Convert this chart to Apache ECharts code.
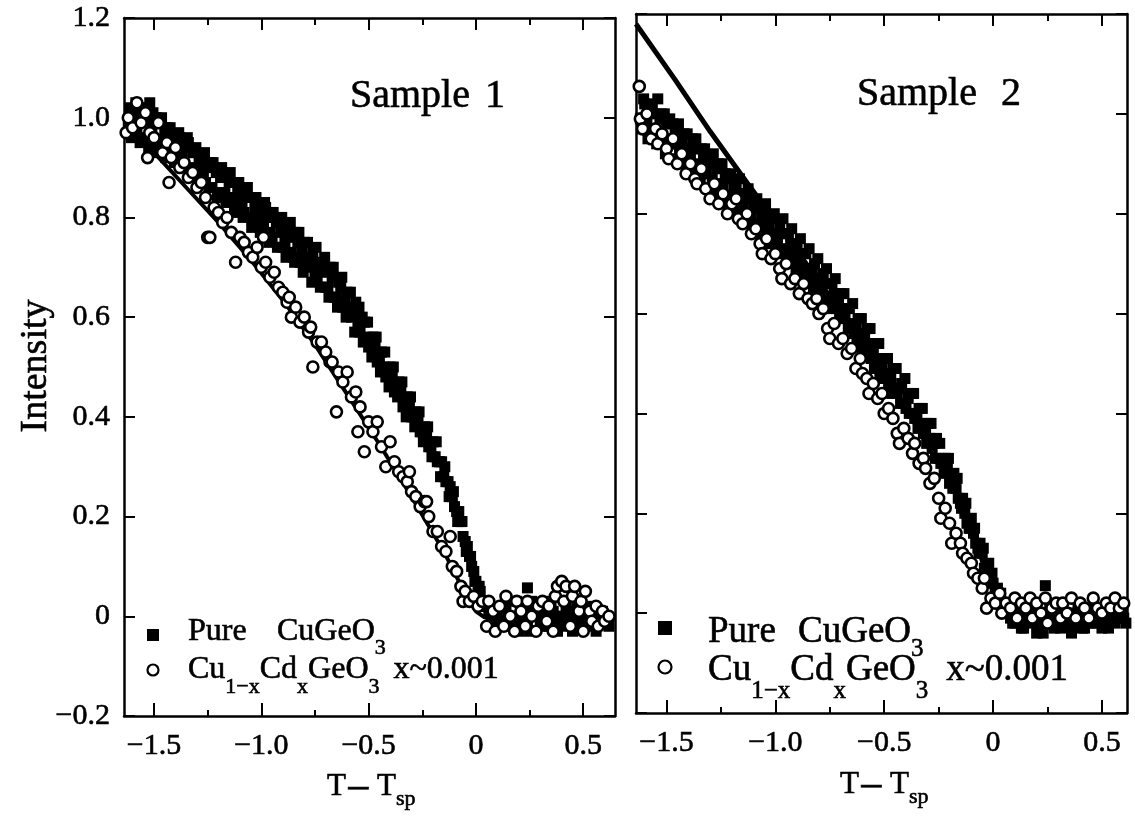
<!DOCTYPE html>
<html><head><meta charset="utf-8">
<script src="https://cdn.jsdelivr.net/npm/echarts@6/dist/echarts.min.js"></script>
<style>html,body{margin:0;padding:0;background:#fff;}#c{width:1135px;height:821px;}</style>
</head><body><div id="c"></div>
<script>
// ---- tick values ----
const xMajorTicks = [-1.5, -1.0, -0.5, 0, 0.5];
const xMinorTicks = [-1.25, -0.75, -0.25, 0.25];
const yTicks = [-0.2, 0, 0.2, 0.4, 0.6, 0.8, 1.0, 1.2];

// ---- Sample 1 : pure CuGeO3 (filled squares) ----
const s1Pure = [
[-1.62,0.99],[-1.60,1.01],[-1.58,0.97],[-1.56,1.02],[-1.54,0.99],[-1.52,1.03],[-1.50,0.95],[-1.48,0.99],[-1.46,0.94],[-1.44,0.98],
[-1.42,0.96],[-1.40,0.92],[-1.38,0.96],[-1.36,0.91],[-1.34,0.95],[-1.32,0.93],[-1.30,0.88],[-1.28,0.92],[-1.26,0.87],[-1.24,0.91],
[-1.22,0.90],[-1.20,0.85],[-1.18,0.89],[-1.16,0.84],[-1.14,0.87],[-1.12,0.82],[-1.10,0.86],[-1.08,0.81],[-1.06,0.84],[-1.04,0.79],
[-1.02,0.83],[-1.00,0.78],[-0.98,0.82],[-0.96,0.77],[-0.94,0.80],[-0.92,0.79],[-0.90,0.74],[-0.88,0.78],[-0.86,0.73],[-0.84,0.77],
[-0.82,0.71],[-0.80,0.75],[-0.78,0.70],[-0.76,0.73],[-0.74,0.68],[-0.72,0.71],[-0.70,0.66],[-0.68,0.70],[-0.66,0.64],[-0.64,0.67],
[-0.62,0.62],[-0.60,0.65],[-0.58,0.60],[-0.56,0.63],[-0.54,0.57],[-0.52,0.59],[-0.50,0.54],[-0.48,0.56],[-0.46,0.51],[-0.44,0.53],
[-0.42,0.48],[-0.40,0.50],[-0.38,0.45],[-0.36,0.47],[-0.34,0.42],[-0.32,0.44],[-0.30,0.40],[-0.28,0.41],[-0.26,0.37],[-0.24,0.38],
[-0.22,0.34],[-0.20,0.35],[-0.18,0.31],[-0.16,0.31],[-0.14,0.27],[-0.12,0.26],[-0.10,0.22],[-0.08,0.21],[-0.06,0.16],[-0.04,0.14],
[-0.02,0.10],[0.00,0.07],[0.02,0.05],[0.04,0.02],[0.06,0.01],[0.08,-0.01],
[0.10,0.01],[0.12,-0.02],[0.14,0.02],[0.16,-0.01],[0.18,0.00],[0.20,-0.03],[0.22,0.01],[0.24,-0.02],[0.26,0.03],[0.28,0.00],
[0.30,-0.01],[0.32,0.02],[0.34,-0.02],[0.36,0.01],[0.38,-0.03],[0.40,0.00],[0.42,0.02],[0.44,-0.01],[0.46,0.01],[0.48,-0.02],
[0.50,0.00],[0.52,0.02],[0.54,-0.01],[0.56,-0.03],[0.58,0.01],[0.60,0.00],[0.62,-0.02],
[-1.61,1.02],[-1.59,0.98],[-1.57,1.00],[-1.55,0.96],[-1.53,1.00],[-1.51,0.98],[-1.49,1.00],[-1.47,0.95],[-1.45,0.97],[-1.43,0.93],
[-1.41,0.96],[-1.39,0.95],[-1.37,0.92],[-1.35,0.94],[-1.33,0.90],[-1.31,0.93],[-1.29,0.91],[-1.27,0.89],[-1.25,0.90],[-1.23,0.86],
[-1.21,0.89],[-1.19,0.88],[-1.17,0.85],[-1.15,0.87],[-1.13,0.84],[-1.11,0.85],[-1.09,0.83],[-1.07,0.85],[-1.05,0.80],[-1.03,0.82],
[-1.01,0.81],[-0.99,0.79],[-0.97,0.80],[-0.95,0.76],[-0.93,0.79],[-0.91,0.77],[-0.89,0.75],[-0.87,0.76],[-0.85,0.72],[-0.83,0.75],
[-0.81,0.73],[-0.79,0.71],[-0.77,0.72],[-0.75,0.69],[-0.73,0.70],[-0.71,0.69],[-0.69,0.66],[-0.67,0.68],[-0.65,0.64],[-0.63,0.66],
[-0.61,0.63],[-0.59,0.61],[-0.57,0.62],[-0.55,0.58],[-0.53,0.60],[-0.51,0.56],[-0.49,0.55],[-0.47,0.54],[-0.45,0.52],[-0.43,0.50],
[-0.41,0.49],[-0.39,0.48],[-0.37,0.46],[-0.35,0.45],[-0.33,0.43],[-0.31,0.42],[-0.29,0.40],[-0.27,0.39],[-0.25,0.37],[-0.23,0.36],
[-0.21,0.34],[-0.19,0.32],[-0.17,0.31],[-0.15,0.28],[-0.13,0.27],[-0.11,0.24],[-0.09,0.21],[-0.07,0.19],[-0.05,0.15],[-0.03,0.12],
[-0.01,0.09],[0.01,0.06],[0.03,0.03],[0.05,0.02],[0.07,0.00],[0.09,0.01],
[0.11,-0.01],[0.13,0.02],[0.15,0.00],[0.17,-0.02],[0.19,0.03],[0.21,-0.01],[0.23,0.01],[0.25,-0.03],[0.27,0.02],[0.29,0.00],
[0.31,-0.02],[0.33,0.01],[0.35,0.03],[0.37,-0.01],[0.39,0.00],[0.41,-0.02],[0.43,0.01],[0.45,-0.03],[0.47,0.02],[0.49,0.00],
[0.51,-0.01],[0.53,0.01],[0.55,-0.02],[0.57,0.00],[0.59,0.01],[0.61,-0.01],
[0.24,0.057],
[-1.605,0.96],[-1.585,1.03],[-1.565,0.95],[-1.545,1.02],[-1.525,0.94],[-1.505,1.01],[-1.485,0.93],[-1.465,1.00],[-1.445,0.92],[-1.425,0.98],
[-1.405,0.91],[-1.385,0.97],[-1.365,0.90],[-1.345,0.96],[-1.325,0.88],[-1.305,0.94],[-1.285,0.87],[-1.265,0.93],[-1.245,0.86],[-1.225,0.91],
[-1.205,0.84],[-1.185,0.90],[-1.165,0.83],[-1.145,0.89],[-1.125,0.81],[-1.105,0.87],[-1.085,0.80],[-1.065,0.86],[-1.045,0.78],[-1.025,0.84],
[-1.005,0.77],[-0.985,0.83],[-0.965,0.75],[-0.945,0.81],[-0.925,0.74],[-0.905,0.80],[-0.885,0.72],[-0.865,0.79],[-0.845,0.71],[-0.825,0.77],
[-0.805,0.69],[-0.785,0.75],[-0.765,0.67],[-0.745,0.74],[-0.725,0.66],[-0.705,0.72],[-0.685,0.64],[-0.665,0.70],[-0.645,0.62],[-0.625,0.68],
[-0.605,0.60],[-0.585,0.65],[-0.565,0.57],[-0.545,0.62],[-0.525,0.55],[-0.505,0.59],[-0.485,0.52],[-0.465,0.56],[-0.445,0.49],[-0.425,0.53],
[-0.405,0.46],[-0.385,0.50],[-0.365,0.44],[-0.345,0.47],[-0.325,0.40],[-0.305,0.44],[-0.285,0.38],[-0.265,0.41],[-0.245,0.35],[-0.225,0.38],
[-0.205,0.32],[-0.185,0.35],[-0.165,0.28],[-0.145,0.30],[-0.125,0.24],[-0.105,0.25],[-0.085,0.19],[-0.065,0.19],[-0.045,0.13],[-0.025,0.12],
[-0.005,0.07],[0.015,0.06],[0.035,0.02]
];

// ---- Sample 1 : Cu1-xCdxGeO3 (open circles) ----
const s1Cd = [
[-1.63,0.97],[-1.62,1.00],[-1.60,0.98],[-1.58,1.03],[-1.56,0.99],[-1.54,1.01],[-1.53,0.92],[-1.52,0.97],[-1.50,0.96],[-1.48,0.99],
[-1.46,0.93],[-1.44,0.95],[-1.43,0.87],[-1.42,0.92],[-1.40,0.94],[-1.38,0.90],[-1.36,0.91],[-1.34,0.88],[-1.32,0.89],[-1.30,0.86],
[-1.28,0.87],[-1.26,0.84],[-1.25,0.76],[-1.24,0.76],[-1.22,0.82],[-1.20,0.81],[-1.18,0.79],[-1.16,0.80],[-1.14,0.77],[-1.12,0.71],
[-1.10,0.76],[-1.08,0.75],[-1.06,0.73],[-1.04,0.72],[-1.02,0.74],[-1.00,0.70],[-0.99,0.76],[-0.98,0.71],[-0.96,0.68],[-0.94,0.69],
[-0.92,0.66],[-0.90,0.65],[-0.88,0.63],[-0.87,0.64],[-0.86,0.60],[-0.84,0.62],[-0.82,0.59],[-0.80,0.60],[-0.78,0.57],[-0.77,0.58],
[-0.76,0.50],[-0.74,0.55],[-0.72,0.55],[-0.70,0.53],[-0.68,0.51],[-0.67,0.51],[-0.65,0.41],[-0.64,0.49],[-0.62,0.47],[-0.60,0.49],
[-0.58,0.44],[-0.56,0.45],[-0.55,0.37],[-0.54,0.42],[-0.52,0.33],[-0.50,0.39],[-0.48,0.37],[-0.46,0.39],[-0.44,0.34],[-0.42,0.30],
[-0.40,0.35],[-0.38,0.31],[-0.36,0.29],[-0.34,0.28],[-0.32,0.27],[-0.31,0.29],[-0.30,0.25],[-0.28,0.24],[-0.26,0.22],[-0.24,0.23],
[-0.23,0.23],[-0.22,0.20],[-0.20,0.17],[-0.18,0.17],[-0.16,0.14],[-0.14,0.13],[-0.12,0.16],[-0.11,0.10],[-0.09,0.09],[-0.07,0.06],
[-0.06,0.03],[-0.05,0.05],[-0.03,0.03],[-0.01,0.04],[0.01,0.02],[0.03,0.03],[0.05,-0.02],[0.06,0.03],[0.08,0.01],[0.09,-0.03],
[0.11,0.02],[0.13,-0.02],[0.14,0.04],[0.16,0.00],[0.18,-0.03],[0.19,0.03],[0.21,0.01],[0.23,-0.02],[0.24,0.03],[0.26,0.00],
[0.28,-0.03],[0.29,0.02],[0.31,0.03],[0.33,-0.01],[0.34,0.02],[0.36,-0.03],[0.37,0.04],[0.38,0.06],[0.40,0.07],[0.41,0.03],
[0.42,0.06],[0.44,-0.02],[0.45,0.04],[0.46,0.06],[0.48,0.01],[0.49,0.03],[0.50,-0.03],[0.51,0.05],[0.53,0.01],[0.54,-0.01],
[0.56,0.02],[0.57,-0.02],[0.59,0.01],[0.60,-0.01],[0.62,0.00]
];

// ---- Sample 1 : fit line ----
const s1Fit = [
[-1.64,1.0],[-1.5,0.93],[-1.35,0.86],[-1.2,0.79],[-1.05,0.715],[-0.9,0.634],[-0.75,0.545],[-0.6,0.445],[-0.45,0.345],
[-0.3,0.24],[-0.15,0.13],[-0.05,0.045],[0.0,0.01],[0.04,-0.002],[0.2,-0.005],[0.4,-0.005],[0.65,-0.005]
];

// ---- Sample 2 : pure CuGeO3 (filled squares) ----
const s2Pure = [
[-1.62,0.99],[-1.60,1.02],[-1.58,0.97],[-1.56,1.00],[-1.54,1.03],[-1.52,0.95],[-1.50,0.98],[-1.48,0.94],[-1.46,0.97],[-1.44,0.93],
[-1.42,0.96],[-1.40,0.91],[-1.38,0.95],[-1.36,0.90],[-1.34,0.93],[-1.32,0.88],[-1.30,0.91],[-1.28,0.86],[-1.26,0.90],[-1.24,0.85],
[-1.22,0.87],[-1.20,0.82],[-1.18,0.86],[-1.16,0.81],[-1.14,0.84],[-1.12,0.79],[-1.10,0.82],[-1.08,0.78],[-1.06,0.80],[-1.04,0.75],
[-1.02,0.79],[-1.00,0.74],[-0.98,0.78],[-0.96,0.73],[-0.94,0.76],[-0.92,0.71],[-0.90,0.74],[-0.88,0.69],[-0.86,0.72],[-0.84,0.67],
[-0.82,0.70],[-0.80,0.65],[-0.78,0.68],[-0.76,0.63],[-0.74,0.66],[-0.72,0.61],[-0.70,0.64],[-0.68,0.59],[-0.66,0.61],[-0.64,0.56],
[-0.62,0.59],[-0.60,0.53],[-0.58,0.57],[-0.56,0.51],[-0.54,0.54],[-0.52,0.48],[-0.50,0.51],[-0.48,0.46],[-0.46,0.49],[-0.44,0.44],
[-0.42,0.46],[-0.40,0.41],[-0.38,0.44],[-0.36,0.39],[-0.34,0.41],[-0.32,0.36],[-0.30,0.38],[-0.28,0.33],[-0.26,0.35],[-0.24,0.30],
[-0.22,0.31],[-0.20,0.26],[-0.18,0.28],[-0.16,0.23],[-0.14,0.23],[-0.12,0.18],[-0.10,0.19],[-0.08,0.14],[-0.06,0.14],[-0.04,0.09],
[-0.02,0.10],[0.00,0.06],[0.02,0.05],[0.04,0.02],[0.06,0.01],[0.08,-0.01],
[0.10,-0.02],[0.12,0.00],[0.14,-0.03],[0.16,0.01],[0.18,-0.01],[0.20,-0.04],[0.22,0.00],[0.24,-0.02],[0.26,0.01],[0.28,-0.03],
[0.30,-0.01],[0.32,0.02],[0.34,-0.02],[0.36,-0.04],[0.38,0.00],[0.40,-0.01],[0.42,-0.03],[0.44,0.01],[0.46,-0.02],[0.48,0.00],
[0.50,-0.03],[0.52,-0.01],[0.54,0.01],[0.56,-0.02],[0.58,0.00],[0.60,-0.01],
[-1.61,0.97],[-1.59,0.99],[-1.57,1.01],[-1.55,0.96],[-1.53,0.99],[-1.51,1.00],[-1.49,0.95],[-1.47,0.98],[-1.45,0.94],[-1.43,0.95],
[-1.41,0.93],[-1.39,0.92],[-1.37,0.93],[-1.35,0.89],[-1.33,0.91],[-1.31,0.90],[-1.29,0.87],[-1.27,0.89],[-1.25,0.86],[-1.23,0.88],
[-1.21,0.83],[-1.19,0.85],[-1.17,0.84],[-1.15,0.82],[-1.13,0.83],[-1.11,0.80],[-1.09,0.81],[-1.07,0.77],[-1.05,0.79],[-1.03,0.77],
[-1.01,0.76],[-0.99,0.75],[-0.97,0.76],[-0.95,0.72],[-0.93,0.74],[-0.91,0.72],[-0.89,0.70],[-0.87,0.72],[-0.85,0.68],[-0.83,0.69],
[-0.81,0.67],[-0.79,0.66],[-0.77,0.66],[-0.75,0.63],[-0.73,0.64],[-0.71,0.62],[-0.69,0.60],[-0.67,0.61],[-0.65,0.58],[-0.63,0.57],
[-0.61,0.56],[-0.59,0.55],[-0.57,0.53],[-0.55,0.52],[-0.53,0.51],[-0.51,0.49],[-0.49,0.48],[-0.47,0.47],[-0.45,0.45],[-0.43,0.45],
[-0.41,0.42],[-0.39,0.43],[-0.37,0.40],[-0.35,0.39],[-0.33,0.38],[-0.31,0.36],[-0.29,0.35],[-0.27,0.34],[-0.25,0.31],[-0.23,0.30],
[-0.21,0.29],[-0.19,0.27],[-0.17,0.25],[-0.15,0.22],[-0.13,0.20],[-0.11,0.17],[-0.09,0.16],[-0.07,0.13],[-0.05,0.12],[-0.03,0.08],
[-0.01,0.07],[0.01,0.04],[0.03,0.03],[0.05,0.01],[0.07,0.00],[0.09,-0.02],
[0.11,0.00],[0.13,-0.03],[0.15,-0.01],[0.17,0.01],[0.19,-0.02],[0.21,-0.01],[0.23,-0.04],[0.25,0.00],[0.27,-0.02],[0.29,0.01],
[0.31,-0.03],[0.33,-0.01],[0.35,0.00],[0.37,-0.02],[0.39,0.01],[0.41,-0.03],[0.43,-0.01],[0.45,0.00],[0.47,-0.02],[0.49,0.01],
[0.51,-0.01],[0.53,-0.03],[0.55,0.00],[0.57,-0.01],[0.59,0.01],[0.61,-0.02],
[0.24,0.055],
[-1.605,1.03],[-1.585,0.95],[-1.565,1.02],[-1.545,0.94],[-1.525,1.00],[-1.505,0.92],[-1.485,0.99],[-1.465,0.91],[-1.445,0.98],[-1.425,0.90],
[-1.405,0.96],[-1.385,0.88],[-1.365,0.95],[-1.345,0.87],[-1.325,0.93],[-1.305,0.85],[-1.285,0.92],[-1.265,0.84],[-1.245,0.90],[-1.225,0.82],
[-1.205,0.88],[-1.185,0.80],[-1.165,0.87],[-1.145,0.79],[-1.125,0.85],[-1.105,0.77],[-1.085,0.83],[-1.065,0.75],[-1.045,0.82],[-1.025,0.74],
[-1.005,0.80],[-0.985,0.72],[-0.965,0.79],[-0.945,0.70],[-0.925,0.77],[-0.905,0.69],[-0.885,0.75],[-0.865,0.67],[-0.845,0.73],[-0.825,0.65],
[-0.805,0.71],[-0.785,0.63],[-0.765,0.69],[-0.745,0.61],[-0.725,0.67],[-0.705,0.59],[-0.685,0.64],[-0.665,0.57],[-0.645,0.62],[-0.625,0.54],
[-0.605,0.59],[-0.585,0.52],[-0.565,0.57],[-0.545,0.49],[-0.525,0.54],[-0.505,0.47],[-0.485,0.51],[-0.465,0.44],[-0.445,0.49],[-0.425,0.42],
[-0.405,0.47],[-0.385,0.40],[-0.365,0.44],[-0.345,0.37],[-0.325,0.41],[-0.305,0.34],[-0.285,0.38],[-0.265,0.31],[-0.245,0.34],[-0.225,0.28],
[-0.205,0.31],[-0.185,0.25],[-0.165,0.27],[-0.145,0.21],[-0.125,0.22],[-0.105,0.17],[-0.085,0.17],[-0.065,0.12],[-0.045,0.13],[-0.025,0.08],
[-0.005,0.08],[0.015,0.04],[0.035,0.04]
];

// ---- Sample 2 : Cu1-xCdxGeO3 (open circles) ----
const s2Cd = [
[-1.625,1.055],[-1.62,0.99],[-1.61,0.97],[-1.59,1.00],[-1.57,0.95],[-1.55,0.97],[-1.54,0.94],[-1.52,0.96],[-1.50,0.93],[-1.49,0.91],
[-1.47,0.95],[-1.45,0.90],[-1.43,0.92],[-1.41,0.88],[-1.39,0.90],[-1.37,0.87],[-1.36,0.86],[-1.34,0.89],[-1.32,0.85],[-1.30,0.83],
[-1.28,0.86],[-1.26,0.82],[-1.24,0.84],[-1.22,0.80],[-1.20,0.82],[-1.18,0.83],[-1.17,0.79],[-1.15,0.78],[-1.13,0.80],[-1.11,0.76],
[-1.09,0.77],[-1.07,0.74],[-1.06,0.72],[-1.04,0.75],[-1.02,0.71],[-1.00,0.72],[-0.98,0.69],[-0.97,0.67],[-0.95,0.70],[-0.93,0.66],
[-0.91,0.67],[-0.89,0.64],[-0.87,0.66],[-0.85,0.63],[-0.83,0.62],[-0.81,0.63],[-0.80,0.60],[-0.78,0.61],[-0.76,0.57],[-0.75,0.55],
[-0.73,0.58],[-0.71,0.54],[-0.69,0.55],[-0.67,0.52],[-0.65,0.53],[-0.63,0.49],[-0.61,0.51],[-0.60,0.48],[-0.58,0.47],[-0.57,0.44],
[-0.55,0.46],[-0.53,0.43],[-0.51,0.44],[-0.50,0.40],[-0.48,0.41],[-0.46,0.39],[-0.44,0.36],[-0.43,0.34],[-0.41,0.37],[-0.39,0.35],
[-0.37,0.32],[-0.36,0.34],[-0.34,0.30],[-0.32,0.31],[-0.31,0.29],[-0.29,0.26],[-0.27,0.27],[-0.25,0.23],[-0.24,0.19],[-0.22,0.21],
[-0.20,0.18],[-0.19,0.14],[-0.17,0.16],[-0.15,0.14],[-0.14,0.12],[-0.12,0.11],[-0.10,0.10],[-0.09,0.08],[-0.07,0.07],[-0.05,0.05],
[-0.04,0.07],[-0.03,0.01],[-0.01,0.03],[0.01,0.02],[0.03,0.04],[0.04,0.00],[0.06,0.02],[0.08,0.01],[0.10,0.03],[0.11,-0.01],
[0.13,0.02],[0.15,0.01],[0.17,0.03],[0.18,-0.01],[0.20,0.02],[0.22,0.00],[0.24,0.03],[0.25,-0.02],[0.27,0.01],[0.29,0.02],
[0.31,-0.01],[0.32,0.02],[0.34,0.00],[0.36,0.03],[0.38,-0.01],[0.40,0.02],[0.42,0.01],[0.44,-0.01],[0.46,0.03],[0.48,0.01],
[0.50,0.00],[0.52,0.02],[0.54,0.01],[0.56,0.03],[0.58,0.01],[0.60,0.02]
];

// ---- Sample 2 : fit line ----
const s2Fit = [
[-1.64,1.18],[-1.46,1.068],[-1.3,0.965],[-1.13,0.862],[-1.0,0.785],[-0.8,0.665],[-0.6,0.54],[-0.4,0.41],
[-0.2,0.265],[-0.1,0.17],[-0.03,0.08],[0.02,0.02],[0.06,0.0],[0.61,-0.005]
];

const FONT = 'Liberation Serif';
const cv = document.createElement('canvas').getContext('2d');
function tw(t, size) { cv.font = size + 'px "' + FONT + '"'; return cv.measureText(t).width; }
const K = 0.34;
function runs(items) {
  const els = []; let cx = 0;
  for (const it of items) {
    if (it.x !== undefined) cx = it.x;
    els.push({type:'text', silent:true, z:100, x:cx, y:it.base - K*it.size,
      style:{text:it.t, font:it.size + 'px "' + FONT + '"', fill:'#000', stroke:'#000', lineWidth:0.6,
        align:'left', verticalAlign:'middle', textAlign:'left', textVerticalAlign:'middle'}});
    cx += tw(it.t, it.size) + (it.gap || 0);
  }
  return els;
}

const fmt = v => Math.abs(v) < 1e-9 ? '0' : (v < 0 ? '\u2212' : '') + Math.abs(v).toFixed(1);
const BLK = '#000';
const lab = {formatter:fmt, fontSize:30, fontFamily:FONT, color:BLK, textBorderColor:BLK, textBorderWidth:0.6};

function xAxes(g, min, max) {
  const base = {gridIndex:g, type:'value', min:min, max:max, splitLine:{show:false},
    axisLine:{onZero:false, lineStyle:{color:BLK, width:2.5}}};
  const tk = {color:BLK, width:2};
  return [
    Object.assign({}, base, {position:'bottom',
      axisTick:{inside:true, length:13, customValues:xMajorTicks, lineStyle:tk},
      axisLabel:Object.assign({customValues:xMajorTicks, margin:15}, lab)}),
    Object.assign({}, base, {position:'bottom', axisLine:{show:false, onZero:false},
      axisTick:{inside:true, length:6, customValues:xMinorTicks, lineStyle:tk}, axisLabel:{show:false}}),
    Object.assign({}, base, {position:'top',
      axisTick:{inside:true, length:12, customValues:xMajorTicks, lineStyle:tk}, axisLabel:{show:false}}),
    Object.assign({}, base, {position:'top', axisLine:{show:false, onZero:false},
      axisTick:{inside:true, length:7, customValues:xMinorTicks, lineStyle:tk}, axisLabel:{show:false}})
  ];
}
function yAxes(g, labels) {
  const base = {gridIndex:g, type:'value', min:-0.2, max:1.2, splitLine:{show:false},
    axisLine:{onZero:false, lineStyle:{color:BLK, width:2.5}}};
  const tk = {color:BLK, width:2};
  return [
    Object.assign({}, base, {position:'left',
      axisTick:{inside:true, length:11, customValues:yTicks, lineStyle:tk},
      axisLabel: labels ? Object.assign({customValues:yTicks, margin:14}, lab) : {show:false}}),
    Object.assign({}, base, {position:'right',
      axisTick:{inside:true, length:11, customValues:yTicks, lineStyle:tk}, axisLabel:{show:false}})
  ];
}

const fitStyle = w => ({color:BLK, width:w, opacity:1});
const sq = {symbol:'rect', symbolSize:11, itemStyle:{color:BLK, opacity:1}};
const ci = {symbol:'circle', symbolSize:11, itemStyle:{color:'#fff', borderColor:BLK, borderWidth:2.6, opacity:1}};

const graphics = [].concat(
  [{type:'text', silent:true, x:36, y:366, rotation:Math.PI/2,
    style:{text:'Intensity', font:'38px "' + FONT + '"', fill:BLK, stroke:BLK, lineWidth:0.6, align:'center', verticalAlign:'middle', textAlign:'center', textVerticalAlign:'middle'}}],
  runs([{t:'Sample', size:40, base:110, x:350}, {t:'1', size:40, base:110, x:485}]),
  runs([{t:'Sample', size:40, base:108, x:857}, {t:'2', size:40, base:108, x:1001}]),
  // left legend
  runs([{t:'Pure', size:32, base:642, x:188}, {t:'CuGeO', size:32, base:642, x:277}, {t:'3', size:22, base:656}]),
  runs([{t:'Cu', size:32, base:680, x:188}, {t:'1\u2212x', size:22, base:695}, {t:'Cd', size:32, base:680},
        {t:'x', size:22, base:695}, {t:'GeO', size:32, base:680}, {t:'3', size:22, base:695, gap:14}, {t:'x~0.001', size:32, base:680}]),
  // right legend
  runs([{t:'Pure', size:37, base:645, x:708}, {t:'CuGeO', size:37, base:645, x:798}, {t:'3', size:25, base:658}]),
  runs([{t:'Cu', size:37, base:683, x:708}, {t:'1\u2212x', size:25, base:700}, {t:'Cd', size:37, base:683},
        {t:'x', size:25, base:700}, {t:'GeO', size:37, base:683}, {t:'3', size:25, base:700, gap:18}, {t:'x~0.001', size:37, base:683}]),
  // x-axis titles
  runs([{t:'T', size:31, base:797, x:327}, {t:'\u2212', size:44, base:806, x:346}, {t:'T', size:31, base:797, x:377}, {t:'sp', size:22, base:807}]),
  runs([{t:'T', size:31, base:795, x:840}, {t:'\u2212', size:44, base:804, x:859}, {t:'T', size:31, base:795, x:890}, {t:'sp', size:22, base:805}]),
  // legend markers
  [{type:'rect', silent:true, z:100, shape:{x:147, y:629, width:12, height:12}, style:{fill:BLK}},
   {type:'circle', silent:true, z:100, shape:{cx:153, cy:670, r:5.5}, style:{fill:'#fff', stroke:BLK, lineWidth:2.2}},
   {type:'rect', silent:true, z:100, shape:{x:658, y:621, width:14, height:14}, style:{fill:BLK}},
   {type:'circle', silent:true, z:100, shape:{cx:665, cy:667, r:6.5}, style:{fill:'#fff', stroke:BLK, lineWidth:2.2}}]
);

const chart = echarts.init(document.getElementById('c'), null, {renderer:'canvas'});
chart.setOption({
  animation:false,
  backgroundColor:'#fff',
  grid:[
    {left:124, top:18, width:491, height:698, outerBoundsMode:'none'},
    {left:636, top:14, width:491, height:699, outerBoundsMode:'none'}
  ],
  xAxis: xAxes(0, -1.64, 0.648).concat(xAxes(1, -1.64, 0.615)),
  yAxis: yAxes(0, true).concat(yAxes(1, false)),
  series:[
    {type:'line', xAxisIndex:0, yAxisIndex:0, data:s1Fit, symbol:'none', showSymbol:false, lineStyle:fitStyle(4), z:2, silent:true},
    Object.assign({type:'scatter', name:'Pure CuGeO3', xAxisIndex:0, yAxisIndex:0, data:s1Pure, z:3}, sq),
    Object.assign({type:'scatter', name:'Cu1-xCdxGeO3 x~0.001', xAxisIndex:0, yAxisIndex:0, data:s1Cd, z:4}, ci),
    {type:'line', xAxisIndex:4, yAxisIndex:2, data:s2Fit, symbol:'none', showSymbol:false, lineStyle:fitStyle(5), z:2, silent:true},
    Object.assign({type:'scatter', name:'Pure CuGeO3', xAxisIndex:4, yAxisIndex:2, data:s2Pure, z:3}, sq),
    Object.assign({type:'scatter', name:'Cu1-xCdxGeO3 x~0.001', xAxisIndex:4, yAxisIndex:2, data:s2Cd, z:4}, ci)
  ],
  graphic: graphics
});
</script>
</body></html>
